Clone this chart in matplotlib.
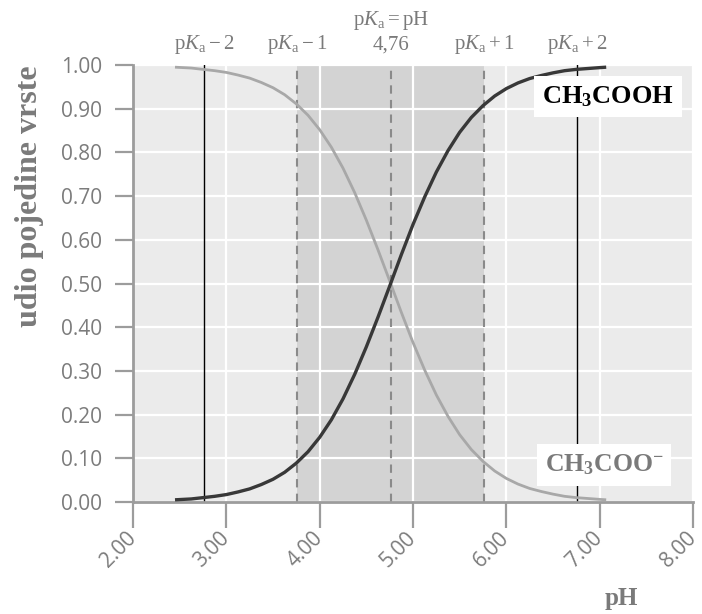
import matplotlib
matplotlib.use('Agg')
import matplotlib.pyplot as plt
from matplotlib.transforms import blended_transform_factory

plt.rcParams['mathtext.fontset'] = 'custom'
plt.rcParams['mathtext.rm'] = 'Liberation Serif'
plt.rcParams['mathtext.it'] = 'Liberation Serif:italic'
plt.rcParams['mathtext.bf'] = 'Liberation Serif:bold'

# ---- data ----
ph = [2.45, 2.625, 2.75, 2.875, 3.0, 3.125, 3.25, 3.375, 3.5, 3.625,
      3.75, 3.875, 4.0, 4.125, 4.25, 4.375, 4.5, 4.625, 4.75, 4.875,
      5.0, 5.125, 5.25, 5.375, 5.5, 5.625, 5.75, 5.875, 6.0, 6.125,
      6.25, 6.375, 6.5, 6.625, 6.75, 6.875, 7.0, 7.07]
frac_dark = [0.005, 0.007, 0.010, 0.013, 0.017, 0.023, 0.030, 0.040, 0.052, 0.068,
             0.089, 0.115, 0.148, 0.188, 0.236, 0.292, 0.355, 0.423, 0.494, 0.566,
             0.635, 0.698, 0.755, 0.804, 0.846, 0.880, 0.907, 0.929, 0.946, 0.959,
             0.969, 0.976, 0.982, 0.987, 0.990, 0.992, 0.994, 0.995]
frac_grey = [0.995, 0.993, 0.990, 0.987, 0.983, 0.977, 0.970, 0.960, 0.948, 0.932,
             0.911, 0.885, 0.852, 0.812, 0.764, 0.708, 0.645, 0.577, 0.506, 0.434,
             0.365, 0.302, 0.245, 0.196, 0.154, 0.120, 0.093, 0.071, 0.054, 0.041,
             0.031, 0.024, 0.018, 0.013, 0.010, 0.008, 0.006, 0.005]

pka = 4.76
solid_marks = [2.76, 6.76]
dashed_marks = [3.76, 4.76, 5.76]
top_label_x = [2.76, 3.76, 4.76, 5.76, 6.76]
top_labels = [r'$\mathrm{p}K_\mathrm{a}-2$', r'$\mathrm{p}K_\mathrm{a}-1$', '4,76',
              r'$\mathrm{p}K_\mathrm{a}+1$', r'$\mathrm{p}K_\mathrm{a}+2$']
top_title = r'$\mathrm{p}K_\mathrm{a}=\mathrm{pH}$'

x_ticks = [2, 3, 4, 5, 6, 7, 8]
x_ticklabels = ['2.00', '3.00', '4.00', '5.00', '6.00', '7.00', '8.00']
y_ticks = [0.0, 0.1, 0.2, 0.3, 0.4, 0.5, 0.6, 0.7, 0.8, 0.9, 1.0]
y_ticklabels = ['0.00', '0.10', '0.20', '0.30', '0.40', '0.50',
                '0.60', '0.70', '0.80', '0.90', '1.00']

label_dark = r'$\mathbf{CH_3COOH}$'
label_grey = r'$\mathbf{CH_3COO^{-}}$'
y_title = 'udio pojedine vrste'
x_title = 'pH'

# ---- figure ----
W, H = 702, 614
fig = plt.figure(figsize=(W / 100, H / 100), dpi=100)
ax = fig.add_axes([133 / W, 1 - 502 / H, (693 - 133) / W, (502 - 65) / H])
ax.set_facecolor('#ebebeb')
ax.set_xlim(2, 8)
ax.set_ylim(0, 1)

ax.axvspan(pka - 1, pka + 1, color='#d3d3d3', lw=0, zorder=0.2)
ax.set_axisbelow(True)
ax.grid(True, color='white', lw=1.6)

for x in dashed_marks:
    ax.axvline(x, color='#8a8a8a', ls=(0, (4, 3)), lw=1.5, zorder=1)
for x in solid_marks:
    ax.axvline(x, color='black', lw=1.0, zorder=1.5)

ax.plot(ph, frac_grey, color='#a8a8a8', lw=2.0, zorder=2, solid_capstyle='butt')
ax.plot(ph, frac_dark, color='#383838', lw=2.4, zorder=3, solid_capstyle='butt')

for s in ['top', 'right']:
    ax.spines[s].set_visible(False)
for s in ['left', 'bottom']:
    ax.spines[s].set_color('#9c9c9c')
    ax.spines[s].set_linewidth(2)

tick_font = dict(family='Open Sans', size=15, color='#7c7c7c')
ax.set_yticks(y_ticks)
ax.set_yticklabels(y_ticklabels, **tick_font)
ax.set_xticks(x_ticks)
ax.set_xticklabels(x_ticklabels, rotation=45, ha='right', va='center',
                   rotation_mode='anchor', **tick_font)
ax.tick_params(axis='y', length=13, width=1.6, color='#9c9c9c', pad=9)
ax.tick_params(axis='x', length=19, width=1.6, color='#9c9c9c', pad=5)

# labels in white boxes
ax.text(7.09, 0.928, label_dark, fontsize=19, color='black', ha='center', va='center',
        bbox=dict(boxstyle='square,pad=0.3', fc='white', ec='none'), zorder=5)
ax.text(7.05, 0.085, label_grey, fontsize=18.5, color='#7a7a7a', ha='center', va='center',
        bbox=dict(boxstyle='square,pad=0.3', fc='white', ec='none'), zorder=5)

# top annotations
trans = blended_transform_factory(ax.transData, fig.transFigure)
for x, t in zip(top_label_x, top_labels):
    fig.text(x, 1 - 45 / H, t, transform=trans, ha='center', va='center',
             fontsize=15, color='#7a7a7a', family='Liberation Serif')
fig.text(pka, 1 - 20 / H, top_title, transform=trans, ha='center', va='center',
         fontsize=15, color='#7a7a7a', family='Liberation Serif')

fig.text(30 / W, 1 - 196 / H, y_title, rotation=90, ha='center', va='center',
         fontsize=23, fontweight='bold', family='Liberation Serif', color='#7a7a7a')
fig.text(621 / W, 1 - 598 / H, x_title, ha='center', va='center',
         fontsize=18, fontweight='bold', family='Liberation Serif', color='#7a7a7a')

fig.savefig('out.png', dpi=100)
